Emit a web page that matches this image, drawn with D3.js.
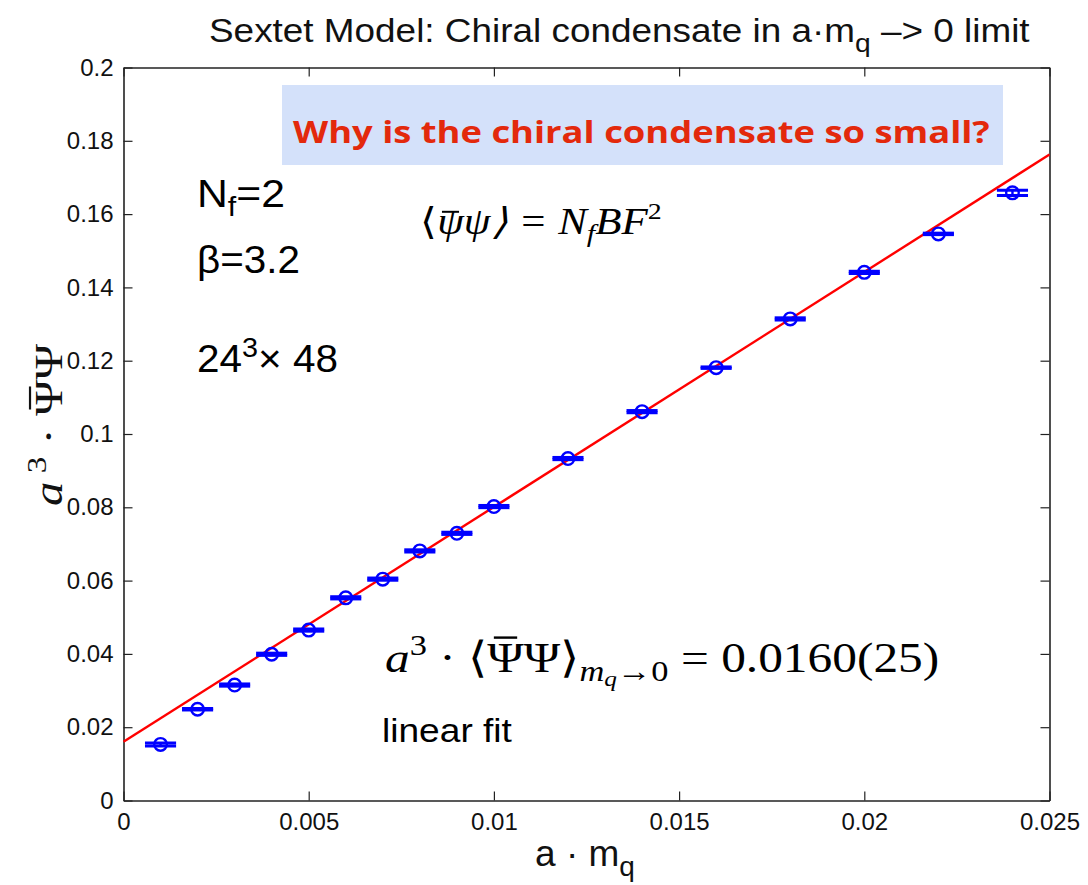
<!DOCTYPE html>
<html>
<head>
<meta charset="utf-8">
<script src="https://cdn.jsdelivr.net/npm/d3@7/dist/d3.min.js"></script>
<style>
  html, body { margin: 0; padding: 0; background: #fff; }
  svg { display: block; }
</style>
</head>
<body>
<svg id="chart" width="1088" height="885"></svg>
<script>
// Quark masses (lattice units) and measured condensate
const massValues = [0.001, 0.002, 0.003, 0.004, 0.005, 0.006, 0.007, 0.008, 0.009, 0.010,
                    0.012, 0.014, 0.016, 0.018, 0.020, 0.022, 0.024];
const condensateValues = [0.0153, 0.0249, 0.0315, 0.0399, 0.0465, 0.0553, 0.0604, 0.0681, 0.0729, 0.0802,
                          0.0933, 0.1061, 0.1181, 0.1314, 0.1441, 0.1546, 0.1658];
const condensateErrors = [0.0004, 0.0002, 0.0003, 0.0003, 0.0003, 0.0003, 0.0003, 0.0003, 0.0003, 0.0003,
                          0.0003, 0.0003, 0.0002, 0.0003, 0.0003, 0.0002, 0.0007];

// Linear fit: intercept and slope
const fitIntercept = 0.0160;
const fitSlope = 6.41;
const fitRange = [0, 0.025];

const xTicks = [0, 0.005, 0.01, 0.015, 0.02, 0.025];
const xTickLabels = ["0", "0.005", "0.01", "0.015", "0.02", "0.025"];
const yTicks = [0, 0.02, 0.04, 0.06, 0.08, 0.1, 0.12, 0.14, 0.16, 0.18, 0.2];
const yTickLabels = ["0", "0.02", "0.04", "0.06", "0.08", "0.1", "0.12", "0.14", "0.16", "0.18", "0.2"];

const svg = d3.select("#chart");
const plotLeft = 123.5, plotRight = 1049.5, plotTop = 67.5, plotBottom = 800.5;

const x = d3.scaleLinear().domain([0, 0.025]).range([plotLeft, plotRight]);
const y = d3.scaleLinear().domain([0, 0.2]).range([plotBottom, plotTop]);

const sans = "'Liberation Sans', Arial, Helvetica, sans-serif";
const serif = "'Liberation Serif', 'Times New Roman', serif";

// Axes: ticks point inward on all four sides
function styleAxis(g) {
  g.selectAll("path.domain").attr("stroke", "#222").attr("stroke-width", 1.6);
  g.selectAll(".tick line").attr("stroke", "#222").attr("stroke-width", 1.2);
  g.selectAll(".tick text").attr("fill", "#111").style("font-family", sans).style("font-size", "24px");
}

svg.append("g")
  .attr("transform", `translate(0,${plotBottom})`)
  .call(d3.axisBottom(x).tickValues(xTicks).tickFormat((d, i) => xTickLabels[i])
        .tickSizeInner(-9).tickSizeOuter(0).tickPadding(12))
  .call(styleAxis);

svg.append("g")
  .attr("transform", `translate(0,${plotTop})`)
  .call(d3.axisTop(x).tickValues(xTicks).tickFormat("")
        .tickSizeInner(-9).tickSizeOuter(0))
  .call(styleAxis);

svg.append("g")
  .attr("transform", `translate(${plotLeft},0)`)
  .call(d3.axisLeft(y).tickValues(yTicks).tickFormat((d, i) => yTickLabels[i])
        .tickSizeInner(-9).tickSizeOuter(0).tickPadding(10))
  .call(styleAxis);

svg.append("g")
  .attr("transform", `translate(${plotRight},0)`)
  .call(d3.axisRight(y).tickValues(yTicks).tickFormat("")
        .tickSizeInner(-9).tickSizeOuter(0))
  .call(styleAxis);

// Rich text helper: runs of text with size/italic/baseline shifts, optional overbar,
// optionally stretched horizontally to a given advance length.
function richText(opts) {
  const g = svg.append("g").attr("transform", opts.transform);
  const inner = g.append("g");
  const t = inner.append("text")
    .attr("x", 0).attr("y", 0)
    .attr("fill", opts.fill || "#000")
    .style("font-family", opts.family)
    .style("font-size", opts.size + "px");
  if (opts.weight) t.style("font-weight", opts.weight);
  let base = 0;
  const bars = [];
  opts.runs.forEach(r => {
    const sp = t.append("tspan").text(r.t);
    const dy = r.dy || 0;
    if (dy) sp.attr("dy", dy);
    base += dy;
    if (r.italic) sp.style("font-style", "italic");
    if (r.size) sp.style("font-size", r.size + "px");
    if (r.bar) bars.push({ node: sp.node(), base, size: r.size || opts.size, bar: r.bar });
  });
  const natural = t.node().getComputedTextLength();
  const sx = opts.length ? opts.length / natural : 1;
  let shift = 0;
  if (opts.anchor === "middle") shift = -natural * sx / 2;
  inner.attr("transform", `translate(${shift},0) scale(${sx},1)`);
  bars.forEach(b => {
    const ext = b.node.getExtentOfChar(b.bar.index || 0);
    inner.append("line")
      .attr("x1", ext.x + ext.width * 0.18).attr("x2", ext.x + ext.width * 0.82)
      .attr("y1", b.base - b.size * b.bar.h).attr("y2", b.base - b.size * b.bar.h)
      .attr("stroke", opts.fill || "#000").attr("stroke-width", b.bar.w || 2);
  });
  return g;
}

// Highlighted question box
svg.append("rect")
  .attr("x", 282).attr("y", 85).attr("width", 721).attr("height", 80)
  .attr("fill", "#d4e1fa");
richText({
  transform: "translate(293,143)", family: "'Open Sans', 'Noto Sans', sans-serif",
  size: 30, weight: "bold", fill: "#e3290c", length: 697,
  runs: [{ t: "Why is the chiral condensate so small?" }]
});

// Fit line
const fitLine = d3.line().x(d => x(d)).y(d => y(fitIntercept + fitSlope * d));
svg.append("path")
  .datum(fitRange)
  .attr("d", fitLine)
  .attr("fill", "none")
  .attr("stroke", "#ff0000")
  .attr("stroke-width", 2.4);

// Data points with error bars
const points = massValues.map((m, i) => ({ m, v: condensateValues[i], e: condensateErrors[i] }));
const capHalf = 0.00042;
const pg = svg.append("g").attr("stroke", "#0000ff").attr("fill", "none");
points.forEach(p => {
  pg.append("line")
    .attr("x1", x(p.m)).attr("x2", x(p.m))
    .attr("y1", y(p.v - p.e)).attr("y2", y(p.v + p.e))
    .attr("stroke-width", 2.4);
  [p.v - p.e, p.v + p.e].forEach(cy => {
    pg.append("line")
      .attr("x1", x(p.m - capHalf)).attr("x2", x(p.m + capHalf))
      .attr("y1", y(cy)).attr("y2", y(cy))
      .attr("stroke-width", 3);
  });
  pg.append("circle")
    .attr("cx", x(p.m)).attr("cy", y(p.v)).attr("r", 6.3)
    .attr("stroke-width", 2.4);
});

// Title
richText({
  transform: "translate(209,42)", family: sans, size: 34, fill: "#111", length: 821,
  runs: [
    { t: "Sextet Model: Chiral condensate in a\u00b7m" },
    { t: "q", size: 26, dy: 10 },
    { t: " \u2013> 0 limit", dy: -10 }
  ]
});

// Axis titles
richText({
  transform: "translate(585,866)", family: sans, size: 37, fill: "#111", anchor: "middle",
  runs: [{ t: "a \u00b7 m" }, { t: "q", size: 28, dy: 10 }]
});

richText({
  transform: "translate(62,506) rotate(-90)", family: serif, size: 41, fill: "#111", length: 162,
  runs: [
    { t: "a", italic: true },
    { t: " 3", size: 28, dy: -16 },
    { t: " \u00b7 ", dy: 16 },
    { t: "\u03a8", bar: { h: 0.78, w: 2.2 } },
    { t: "\u03a8" }
  ]
});

// Run parameters
richText({
  transform: "translate(197,207)", family: sans, size: 38, length: 88,
  runs: [{ t: "N" }, { t: "f", size: 27, dy: 9 }, { t: "=2", dy: -9 }]
});
richText({
  transform: "translate(197,273)", family: sans, size: 38, length: 103,
  runs: [{ t: "\u03b2=3.2" }]
});
richText({
  transform: "translate(197,372)", family: sans, size: 38, length: 141,
  runs: [{ t: "24" }, { t: "3", size: 27, dy: -15 }, { t: "\u00d7 48", dy: 15 }]
});

// GMOR relation
richText({
  transform: "translate(420,234)", family: serif, size: 37, length: 240,
  runs: [
    { t: "\u27e8" },
    { t: "\u03c8", italic: true, bar: { h: 0.6, w: 2 } },
    { t: "\u03c8\u27e9 = ", italic: true },
    { t: "N", italic: true },
    { t: "f", italic: true, size: 26, dy: 8 },
    { t: "BF", italic: true, dy: -8 },
    { t: "2", size: 24, dy: -15 }
  ]
});

// Chiral limit result
richText({
  transform: "translate(385,672)", family: serif, size: 43, length: 555,
  runs: [
    { t: "a", italic: true },
    { t: "3", size: 30, dy: -17 },
    { t: " \u00b7 \u27e8", dy: 17 },
    { t: "\u03a8", bar: { h: 0.80, w: 2.4 } },
    { t: "\u03a8\u27e9" },
    { t: "m", italic: true, size: 30, dy: 9 },
    { t: "q", italic: true, size: 22, dy: 5 },
    { t: "\u21920", size: 30, dy: -5 },
    { t: " = 0.0160(25)", dy: -9 }
  ]
});

richText({
  transform: "translate(382,742)", family: sans, size: 34, length: 130,
  runs: [{ t: "linear fit" }]
});
</script>
</body>
</html>
